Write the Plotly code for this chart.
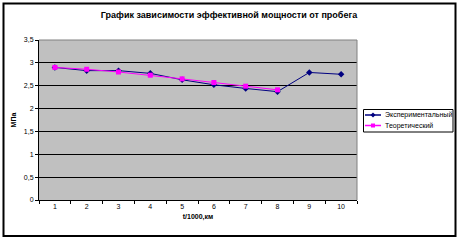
import plotly.graph_objects as go

categories = ["1", "2", "3", "4", "5", "6", "7", "8", "9", "10"]
experimental = [2.90, 2.83, 2.83, 2.77, 2.63, 2.52, 2.44, 2.37, 2.79, 2.75]
theoretical_x = ["1", "2", "3", "4", "5", "6", "7", "8"]
theoretical = [2.90, 2.86, 2.80, 2.73, 2.65, 2.57, 2.49, 2.41]
y_ticks = [0, 0.5, 1, 1.5, 2, 2.5, 3, 3.5]
series_names = ["Экспериментальный", "Теоретический"]
series_colors = ["#000080", "#FF00FF"]

W, H = 459, 240
L, R, T, B = 39, 357, 40, 200
pw, ph = R - L, B - T

def px(x):
    return (x - L) / pw

def py(y):
    return (B - y) / ph

fig = go.Figure()
fig.add_trace(go.Scatter(
    x=categories, y=experimental, name=series_names[0],
    mode="lines+markers",
    line=dict(color=series_colors[0], width=1),
    marker=dict(symbol="diamond", size=5, color=series_colors[0]),
))
fig.add_trace(go.Scatter(
    x=theoretical_x, y=theoretical, name=series_names[1],
    mode="lines+markers",
    line=dict(color=series_colors[1], width=1),
    marker=dict(symbol="square", size=5, color=series_colors[1]),
))

shapes = [
    dict(type="line", xref="paper", yref="paper",
         x0=1, x1=1, y0=0, y1=1, line=dict(color="#808080", width=1)),
    dict(type="line", xref="paper", yref="paper",
         x0=0, x1=1, y0=1, y1=1, line=dict(color="#808080", width=1)),
    dict(type="rect", xref="paper", yref="paper",
         x0=px(3.5), x1=px(455.5), y0=py(3.5), y1=py(236),
         line=dict(color="black", width=2), layer="above"),
    # legend box
    dict(type="rect", xref="paper", yref="paper",
         x0=px(363.5), x1=px(453), y0=py(109.5), y1=py(132),
         line=dict(color="black", width=1), fillcolor="white"),
]
annotations = []
rows_y = [115, 125.5]
for i, (name, col) in enumerate(zip(series_names, series_colors)):
    yy = py(rows_y[i])
    shapes.append(dict(type="line", xref="paper", yref="paper",
                       x0=px(365), x1=px(381), y0=yy, y1=yy,
                       line=dict(color=col, width=1.5)))
    cx = 373
    cy = rows_y[i]
    if i == 0:
        path = "M {} {} L {} {} L {} {} L {} {} Z".format(
            px(cx), py(cy - 2.5), px(cx + 2.5), py(cy), px(cx), py(cy + 2.5), px(cx - 2.5), py(cy))
    else:
        path = "M {} {} L {} {} L {} {} L {} {} Z".format(
            px(cx - 2), py(cy - 2), px(cx + 2), py(cy - 2), px(cx + 2), py(cy + 2), px(cx - 2), py(cy + 2))
    shapes.append(dict(type="path", xref="paper", yref="paper", path=path,
                       fillcolor=col, line=dict(color=col, width=0)))
    annotations.append(dict(text=name, xref="paper", yref="paper",
                            x=px(382.5), y=yy, xanchor="left", yanchor="middle",
                            showarrow=False, font=dict(size=7)))

fig.update_layout(
    width=W, height=H,
    margin=dict(l=L, r=W - R, t=T, b=H - B, autoexpand=False),
    paper_bgcolor="white",
    plot_bgcolor="#C0C0C0",
    separators=", ",
    font=dict(family="Liberation Sans, Arial, sans-serif", size=7, color="black"),
    title=dict(text="<b>График зависимости эффективной мощности от пробега</b>",
               x=229 / W, xanchor="center", y=1 - 15 / H, yanchor="middle",
               font=dict(size=9)),
    showlegend=False,
    xaxis=dict(type="category", tickson="boundaries", ticks="outside",
               ticklen=3, tickcolor="black", showgrid=False,
               showline=True, linecolor="black", linewidth=1,
               title=dict(text="<b>t/1000,км</b>", font=dict(size=7), standoff=4),
               range=[-0.5, 9.5]),
    yaxis=dict(range=[0, 3.5], tickvals=y_ticks, ticks="outside", ticklen=3,
               tickcolor="black", showgrid=True, gridcolor="black", gridwidth=1,
               showline=True, linecolor="black", linewidth=1, zeroline=False,
               title=dict(text="<b>МПа</b>", font=dict(size=7), standoff=6)),
    shapes=shapes,
    annotations=annotations,
)

fig.write_html("out.html")
